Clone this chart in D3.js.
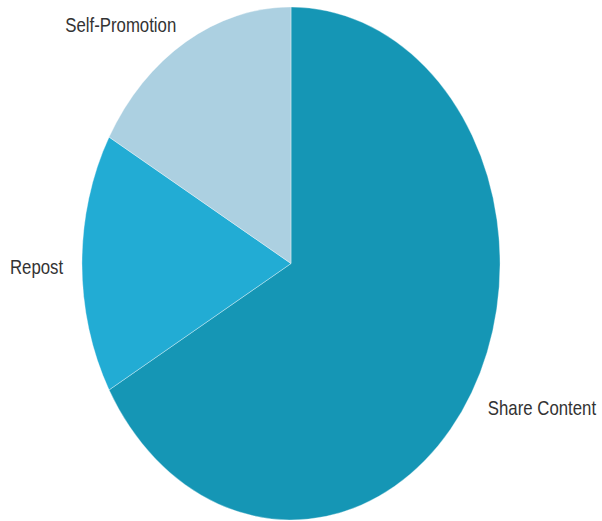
<!DOCTYPE html>
<html>
<head>
<meta charset="utf-8">
<script src="https://cdn.jsdelivr.net/npm/d3@7"></script>
<style>
  html, body { margin: 0; padding: 0; background: #fff; }
  svg { display: block; }
  text { font-family: "Liberation Sans", Arial, Helvetica, sans-serif; fill: #333; }
</style>
</head>
<body>
<svg id="chart" width="602" height="521"></svg>
<script>
// Slices, clockwise from 12 o'clock
const categories = ["Share Content", "Repost", "Self-Promotion"];
const shares = [66.8, 16.4, 16.8];
const colors = ["#1596b5", "#22acd4", "#acd0e1"];

const W = 602, H = 521;
const cx = 291, cy = 263.5;
const R = 256.5;          // pie radius in drawing units
const sx = 0.815;         // horizontal squeeze of the whole drawing

const svg = d3.select("#chart");
const g = svg.append("g")
  .attr("transform", `translate(${cx},${cy}) scale(${sx},1)`);

const data = categories.map((c, i) => ({ name: c, value: shares[i], color: colors[i] }));

const pie = d3.pie().sort(null).value(d => d.value);
const arc = d3.arc().innerRadius(0).outerRadius(R);

const arcs = pie(data);

g.selectAll("path.slice")
  .data(arcs)
  .join("path")
  .attr("class", "slice")
  .attr("d", arc)
  .attr("fill", d => d.data.color)
  .attr("stroke", "rgba(255,255,255,0.35)")
  .attr("stroke-width", 1)
  .attr("vector-effect", "non-scaling-stroke");

// Labels sit just outside the rim at each slice's mid-angle
const labelR = R * 1.09;
g.selectAll("text.label")
  .data(arcs)
  .join("text")
  .attr("class", "label")
  .attr("x", d => Math.sin((d.startAngle + d.endAngle) / 2) * labelR)
  .attr("y", d => -Math.cos((d.startAngle + d.endAngle) / 2) * labelR + 3)
  .attr("dy", "0.35em")
  .attr("text-anchor", d => Math.sin((d.startAngle + d.endAngle) / 2) >= 0 ? "start" : "end")
  .style("font-size", "20.6px")
  .text(d => d.data.name);
</script>
</body>
</html>
